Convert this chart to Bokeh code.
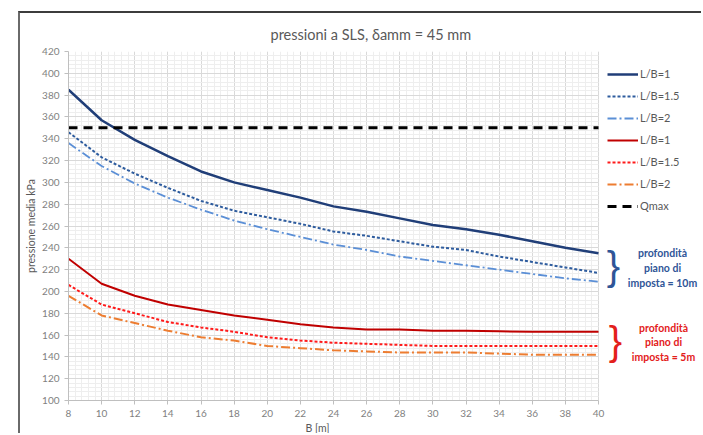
from bokeh.plotting import figure
from bokeh.models import (Range1d, SingleIntervalTicker, Legend, LegendItem, Label,
                          BoxAnnotation, Title, Grid)
from bokeh.embed import file_html
from bokeh.resources import INLINE

B = [8, 10, 12, 14, 16, 18, 20, 22, 24, 26, 28, 30, 32, 34, 36, 38, 40]
p10_lb1 = [385, 357, 339, 324, 310, 300, 293, 286, 278, 273, 267, 261, 257, 252, 246, 240, 235]
p10_lb15 = [346, 323, 308, 295, 283, 274, 268, 262, 255, 251, 246, 241, 238, 232, 227, 222, 217]
p10_lb2 = [336, 315, 299, 286, 275, 265, 257, 250, 243, 238, 232, 228, 224, 220, 216, 212, 209]
p5_lb1 = [230, 207, 196, 188, 183, 178, 174, 170, 167, 165, 165, 164, 164, 163.5, 163, 163, 163]
p5_lb15 = [206, 188, 180, 172, 167, 163, 158, 155, 153, 152, 151, 150, 150, 150, 150, 150, 150]
p5_lb2 = [196, 178, 171, 164, 158, 155, 150, 148, 146, 145, 144, 144, 144, 143, 142, 142, 142]
qmax = [350] * len(B)

labels = ["L/B=1", "L/B=1.5", "L/B=2", "L/B=1", "L/B=1.5", "L/B=2", "Qmax"]

FONT = "Lato"
GRAY = "#595959"

# canvas placed inside a bordered host (chart-area frame)
MX, MY, BW = 18, 11, 2
OX, OY = MX + BW, MY + BW          # page position of canvas origin
W, H = 703 - OX, 435 - OY
FL, FT, FB = 68 - OX, 51 - OY, 400 - OY
frame_w = W - FL
x_end = 8 + frame_w * 32 / 530.0

p = figure(width=W, height=H, output_backend="svg", toolbar_location=None,
           x_range=Range1d(8, x_end), y_range=Range1d(100, 420),
           min_border_left=FL, min_border_right=0, min_border_top=FT,
           min_border_bottom=H - FB)
p.margin = (MY, 0, 0, MX)
p.styles = {"border-left": f"{BW}px solid #6a6a6a", "border-top": f"{BW}px solid #3c3c3c"}
p.outline_line_color = None
p.background_fill_color = "white"
p.border_fill_color = "white"

p.xaxis.ticker = SingleIntervalTicker(interval=2, num_minor_ticks=5)
p.yaxis.ticker = SingleIntervalTicker(interval=20, num_minor_ticks=5)
p.xaxis.bounds = (8, 40)
for ax in (p.xaxis, p.yaxis):
    ax.axis_line_color = "#bfbfbf"
    ax.major_tick_line_color = "#bfbfbf"
    ax.major_tick_out = 4
    ax.major_tick_in = 0
    ax.minor_tick_line_color = None
    ax.major_label_text_font = FONT
    ax.major_label_text_font_size = "10px"
    ax.major_label_text_color = "#7f7f7f"
p.xaxis.major_label_standoff = 5
p.yaxis.major_label_standoff = 5

p.yaxis.axis_label = "pressione media kPa"
p.yaxis.axis_label_text_font = FONT
p.yaxis.axis_label_text_font_size = "10.5px"
p.yaxis.axis_label_text_font_style = "normal"
p.yaxis.axis_label_text_color = GRAY
p.yaxis.axis_label_standoff = 2

p.xgrid.bounds = (8, 40)
for g in (p.xgrid, p.ygrid):
    g.grid_line_color = "#d9d9d9"
    g.grid_line_width = 1
    g.minor_grid_line_color = "#eeeeee"
    g.minor_grid_line_width = 1
if "cross_bounds" in Grid.properties():
    p.ygrid.cross_bounds = (8, 40)
    p.xgrid.cross_bounds = (100, 420)
else:
    p.add_layout(BoxAnnotation(left=40.03, fill_color="white", fill_alpha=1,
                               line_color=None, level="underlay"))

styles = [
    dict(color="#203E78", width=2.5, dash="solid"),
    dict(color="#2E5C9E", width=2, dash="3 2"),
    dict(color="#5B8FD6", width=1.8, dash="9 3 2 3"),
    dict(color="#C00000", width=2, dash="solid"),
    dict(color="#FF1A1A", width=2, dash="3 2"),
    dict(color="#ED7D31", width=2, dash="9 3 2 3"),
    dict(color="#000000", width=3, dash="9 6"),
]
series = [p10_lb1, p10_lb15, p10_lb2, p5_lb1, p5_lb15, p5_lb2, qmax]
items = []
for ys, st, lab in zip(series, styles, labels):
    r = p.line(B, ys, line_color=st["color"], line_width=st["width"], line_dash=st["dash"])
    items.append(LegendItem(label=lab, renderers=[r]))

fh = FB - FT
legend = Legend(items=items, location=(539, fh - 11.6 - 7 * 22))
legend.glyph_width = 31
legend.glyph_height = 22
legend.label_height = 22
legend.spacing = 0
legend.padding = 0
legend.margin = 0
legend.label_standoff = 2
legend.label_text_font = FONT
legend.label_text_font_size = "11px"
legend.label_text_color = GRAY
legend.background_fill_alpha = 0
legend.border_line_color = None
p.add_layout(legend)

p.add_layout(Title(text="pressioni a SLS, \u03b4amm = 45 mm", align="left", offset=202,
                   text_font=FONT, text_font_size="14.5px", text_font_style="normal",
                   text_color=GRAY, standoff=17), "above")
p.add_layout(Title(text="B [m]", align="left", offset=237, text_font=FONT,
                   text_font_size="10.5px", text_font_style="normal",
                   text_color=GRAY, standoff=0), "below")


def sx(px):
    return px - 68


def sy(py):
    return 400 - py


def lab(text, px, py, size, color, style="normal", font=FONT):
    p.add_layout(Label(x=sx(px), y=sy(py), x_units="screen", y_units="screen", text=text,
                       text_font=font, text_font_size=size, text_color=color,
                       text_font_style=style, text_align="center", text_baseline="middle"))


BLUE = "#2F5597"
RED = "#E3201B"
lab("}", 613, 265, "40px", BLUE, font="Liberation Sans")
lab("}", 615, 340, "40px", RED, font="Liberation Sans")
for t, y in zip(["profondit\u00e0", "piano di", "imposta = 10m"], [252, 267, 282]):
    lab(t, 662, y, "10.5px", BLUE, "bold")
for t, y in zip(["profondit\u00e0", "piano di", "imposta = 5m"], [327, 341, 356]):
    lab(t, 663, y, "10.5px", RED, "bold")

open("out.html", "w").write(file_html(p, INLINE))
